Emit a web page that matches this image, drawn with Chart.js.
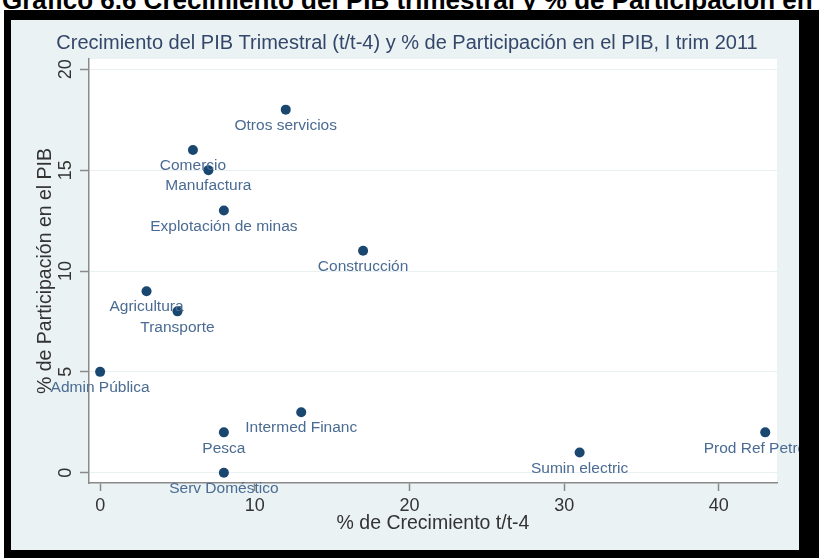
<!DOCTYPE html>
<html lang="es">
<head>
<meta charset="UTF-8">
<title>Crecimiento del PIB Trimestral y % de Participación</title>
<script src="https://cdn.jsdelivr.net/npm/chart.js"></script>
<style>
    body {
        margin: 0;
        width: 819px;
        height: 558px;
        overflow: hidden;
        position: relative;
        background: #fff;
        font-family: "Liberation Sans", Arial, sans-serif;
    }
    #cabecera {
        position: absolute;
        left: 2px;
        top: -15px;
        white-space: nowrap;
        font-weight: bold;
        font-size: 26px;
        color: #000;
    }
    #marco {
        position: absolute;
        left: 4px;
        top: 10px;
        width: 815px;
        height: 548px;
        background: #000;
    }
    #panel {
        position: absolute;
        left: 11px;
        top: 20px;
        width: 788px;
        height: 530px;
        background: #eaf2f3;
    }
    canvas { display: block; }
</style>
</head>
<body>
<div id="cabecera">Gráfico 6.6 Crecimiento del PIB trimestral y % de Participación en el PIB</div>
<div id="marco"></div>
<div id="panel"><canvas id="grafico" width="788" height="530"></canvas></div>

<script>
// datos
const sectores = ['Otros servicios', 'Comercio', 'Manufactura', 'Explotación de minas', 'Construcción',
    'Agricultura', 'Transporte', 'Admin Pública', 'Intermed Financ', 'Pesca', 'Serv Doméstico',
    'Sumin electric', 'Prod Ref Petróleo'];
const crecimiento = [12, 6, 7, 8, 17, 3, 5, 0, 13, 8, 8, 31, 43];
const participacion = [18, 16, 15, 13, 11, 9, 8, 5, 3, 2, 0, 1, 2];
const ticksX = [0, 10, 20, 30, 40];
const ticksY = [0, 5, 10, 15, 20];

const titulo = 'Crecimiento del PIB Trimestral (t/t-4) y % de Participación en el PIB, I trim 2011';
const tituloX = '% de Crecimiento t/t-4';
const tituloY = '% de Participación en el PIB';

const fuente = '"Liberation Sans", Arial, sans-serif';

// textos que Chart.js no coloca como queremos (estilo Stata)
const textosStata = {
    id: 'textosStata',
    beforeDraw(chart) {
        const { ctx, chartArea } = chart;
        ctx.save();
        ctx.fillStyle = '#ffffff';
        ctx.fillRect(chartArea.left, chartArea.top, chartArea.right - chartArea.left, chartArea.bottom - chartArea.top);
        ctx.restore();
    },
    afterDraw(chart) {
        const { ctx, chartArea, scales } = chart;
        const cx = (chartArea.left + chartArea.right) / 2;
        const cy = (chartArea.top + chartArea.bottom) / 2;
        ctx.save();

        // titulo
        ctx.fillStyle = '#34476a';
        ctx.font = '20px ' + fuente;
        ctx.textAlign = 'center';
        ctx.textBaseline = 'middle';
        ctx.fillText(titulo, 396, 23);

        // etiquetas del eje y, giradas
        ctx.fillStyle = '#333333';
        ctx.font = '18px ' + fuente;
        ticksY.forEach(v => {
            const y = scales.y.getPixelForValue(v);
            ctx.save();
            ctx.translate(55, y);
            ctx.rotate(-Math.PI / 2);
            ctx.fillText(String(v), 0, 0);
            ctx.restore();
        });

        // titulos de los ejes
        ctx.font = '19.5px ' + fuente;
        ctx.save();
        ctx.translate(35, cy);
        ctx.rotate(-Math.PI / 2);
        ctx.fillText(tituloY, 0, 0);
        ctx.restore();
        ctx.fillText(tituloX, cx, 504);

        // etiquetas de los puntos, debajo de cada uno
        ctx.fillStyle = '#4a6b92';
        ctx.font = '15.5px ' + fuente;
        sectores.forEach((s, i) => {
            const x = scales.x.getPixelForValue(crecimiento[i]);
            const y = scales.y.getPixelForValue(participacion[i]);
            ctx.fillText(s, x, y + 16);
        });
        ctx.restore();
    }
};

new Chart(document.getElementById('grafico'), {
    type: 'scatter',
    data: {
        datasets: [{
            label: 'Sectores',
            data: sectores.map((s, i) => ({ x: crecimiento[i], y: participacion[i] })),
            backgroundColor: '#1a476f',
            borderWidth: 0,
            pointRadius: 5,
            pointHoverRadius: 5
        }]
    },
    options: {
        responsive: false,
        animation: false,
        layout: { padding: { top: 39, right: 22, left: 0, bottom: 0 } },
        plugins: {
            legend: { display: false },
            tooltip: { enabled: false }
        },
        scales: {
            x: {
                type: 'linear',
                min: -0.72,
                max: 43.76,
                afterBuildTicks: scale => { scale.ticks = ticksX.map(v => ({ value: v })); },
                afterFit: scale => { scale.height = 67; },
                border: { display: true, color: '#8a8a8a', width: 1.5 },
                grid: { drawOnChartArea: false, drawTicks: true, tickLength: 8, tickColor: '#8a8a8a', tickWidth: 1.5 },
                ticks: { color: '#333333', font: { family: fuente, size: 18 }, padding: 4, maxRotation: 0 }
            },
            y: {
                type: 'linear',
                min: -0.51,
                max: 20.51,
                afterBuildTicks: scale => { scale.ticks = ticksY.map(v => ({ value: v })); },
                afterFit: scale => { scale.width = 78; },
                border: { display: true, color: '#8a8a8a', width: 1.5 },
                grid: { color: '#e8f0f1', lineWidth: 1, drawTicks: true, tickLength: 9, tickColor: '#8a8a8a', tickWidth: 1.5 },
                ticks: { display: false }
            }
        }
    },
    plugins: [textosStata]
});
</script>
</body>
</html>
